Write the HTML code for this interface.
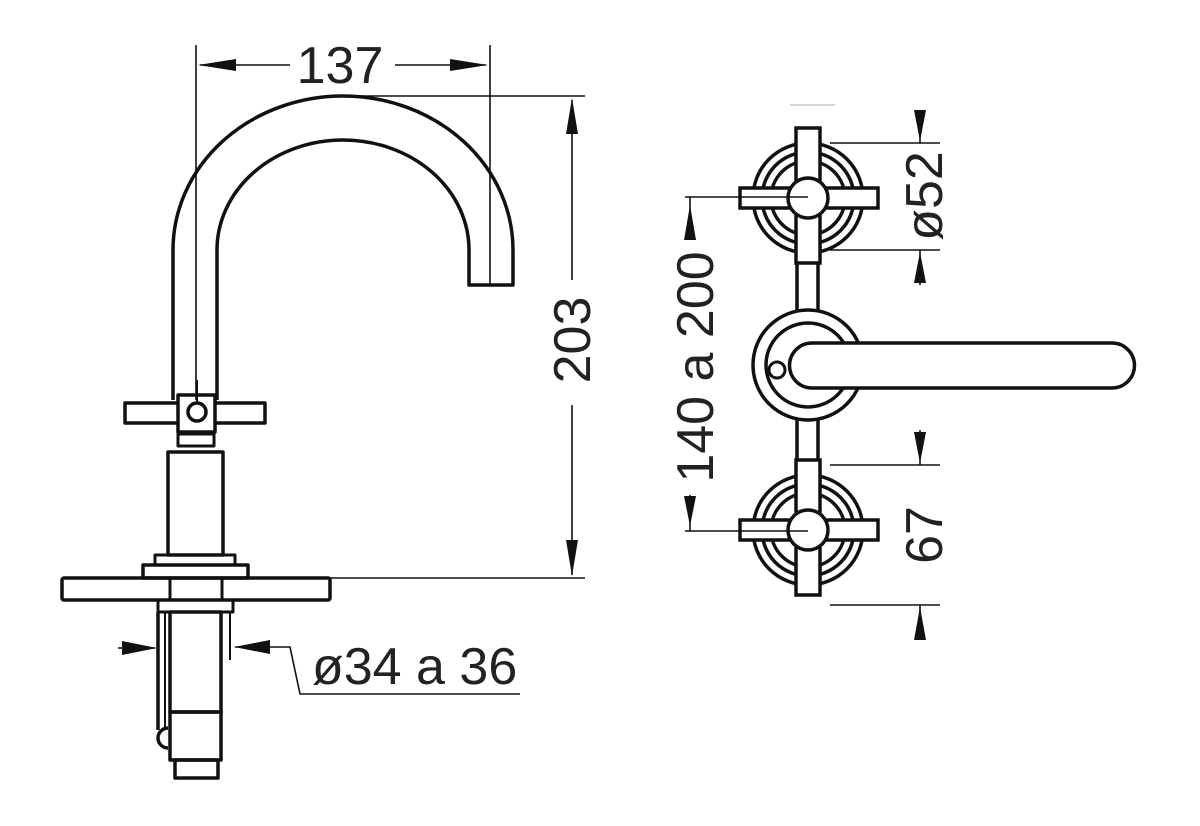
<!DOCTYPE html>
<html><head><style>body{margin:0;background:#fff}svg{display:block}</style></head><body>
<svg width="1200" height="826" viewBox="0 0 1200 826" xmlns="http://www.w3.org/2000/svg">
<defs>
<g id="knob">
<circle r="55" fill="#fff" stroke="#111" stroke-width="3.5"/>
<circle r="46" fill="none" stroke="#111" stroke-width="3.5"/>
<circle r="37" fill="none" stroke="#111" stroke-width="3.5"/>
<rect x="-12" y="-70" width="24" height="135" fill="#fff" stroke="#111" stroke-width="3.5"/>
<rect x="-68" y="-10" width="138" height="20" fill="#fff" stroke="#111" stroke-width="3.5"/>
<circle r="20" fill="#fff" stroke="#111" stroke-width="3.5"/>
</g>
</defs>
<g fill="none" stroke="#111" stroke-linejoin="round">
<!-- spout -->
<path d="M173 400 L173 250 A170 154 0 0 1 513 250 L513 285 L469 285 L469 250 A126 110 0 0 0 217 250 L217 400" stroke-width="3.5"/>
<!-- handle -->
<rect x="125" y="403" width="140" height="20" fill="#fff" stroke-width="3.5"/>
<rect x="178" y="395" width="37" height="37" fill="#fff" stroke-width="3.5"/>
<circle cx="197" cy="412" r="9" stroke-width="3.5"/>
<line x1="197" y1="380" x2="197" y2="403" stroke-width="2"/>
<rect x="178" y="434" width="36" height="12" stroke-width="3"/>
<rect x="168" y="452" width="55" height="103" stroke-width="3.5"/>
<rect x="155" y="555" width="80" height="10" stroke-width="3"/>
<rect x="143" y="565" width="105" height="13" stroke-width="3.5"/>
<rect x="62" y="578" width="268" height="22" rx="2" stroke-width="3.5"/>
<rect x="158" y="600" width="75" height="12" stroke-width="3"/>
<line x1="170" y1="578" x2="170" y2="600" stroke-width="3"/>
<line x1="222" y1="578" x2="222" y2="600" stroke-width="3"/>
<rect x="170" y="612" width="51" height="100" stroke-width="3.5"/>
<line x1="158" y1="612" x2="158" y2="730" stroke-width="3.5"/>
<line x1="165" y1="612" x2="165" y2="730" stroke-width="2"/>
<line x1="230" y1="612" x2="230" y2="660" stroke-width="2"/>
<rect x="170" y="712" width="51" height="48" stroke-width="3.5"/>
<rect x="175" y="760" width="43" height="18" stroke-width="3.5"/>
<path d="M168 728 A10 10 0 0 0 168 748" stroke-width="3.5"/>
<!-- dimensions left -->
<g stroke-width="1.6">
<line x1="196" y1="45" x2="196" y2="400"/>
<line x1="490" y1="45" x2="490" y2="285"/>
<line x1="200" y1="65" x2="290" y2="65"/>
<line x1="395" y1="65" x2="486" y2="65"/>
<line x1="345" y1="96" x2="585" y2="96"/>
<line x1="330" y1="578" x2="585" y2="578"/>
<line x1="572" y1="100" x2="572" y2="280"/>
<line x1="572" y1="405" x2="572" y2="575"/>
<polyline points="235,647 290,647 300,694 520,694"/>
<line x1="118" y1="648" x2="155" y2="648"/>
</g>
</g>
<g fill="#111">
<polygon points="198,65 236,59 236,71"/>
<polygon points="488,65 450,59 450,71"/>
<polygon points="572,98 566,134 578,134"/>
<polygon points="572,576 566,540 578,540"/>
<polygon points="157,648 122,641 122,655"/>
<polygon points="234,647 270,640 270,654"/>
</g>
<g font-family="Liberation Sans, sans-serif" font-size="52" fill="#222">
<text x="340" y="83" text-anchor="middle">137</text>
<text x="312" y="684">ø34 a 36</text>
<text transform="translate(590,340) rotate(-90)" text-anchor="middle">203</text>
<text transform="translate(713,367) rotate(-90)" text-anchor="middle">140 a 200</text>
<text transform="translate(942,196) rotate(-90)" text-anchor="middle">ø52</text>
<text transform="translate(942,535) rotate(-90)" text-anchor="middle">67</text>
</g>
<!-- right view -->
<g fill="none" stroke="#111">
<rect x="797" y="250" width="21" height="230" fill="#fff" stroke-width="3.5"/>
<circle cx="808" cy="365" r="55" fill="#fff" stroke-width="3.5"/>
<circle cx="808" cy="365" r="42" stroke-width="3.5"/>
<path d="M1112 343 L812 343 A22.5 22.5 0 0 0 812 388 L1112 388 A22.5 22.5 0 0 0 1112 343 Z" fill="#fff" stroke-width="3.5"/>
<circle cx="777" cy="370" r="8" fill="#fff" stroke-width="3"/>
</g>
<use href="#knob" x="808" y="198"/>
<use href="#knob" x="808" y="530"/>
<g stroke="#111" stroke-width="1.6">
<line x1="685" y1="197" x2="808" y2="197"/>
<line x1="685" y1="531" x2="808" y2="531"/>
<line x1="830" y1="143" x2="940" y2="143"/>
<line x1="830" y1="250" x2="940" y2="250"/>
<line x1="830" y1="465" x2="940" y2="465"/>
<line x1="830" y1="605" x2="940" y2="605"/>
<line x1="920" y1="110" x2="920" y2="143"/>
<line x1="920" y1="250" x2="920" y2="285"/>
<line x1="920" y1="430" x2="920" y2="465"/>
<line x1="920" y1="605" x2="920" y2="640"/>
<line x1="690" y1="197" x2="690" y2="240"/>
<line x1="690" y1="495" x2="690" y2="531"/>
<line x1="790" y1="105" x2="835" y2="105" stroke="#ccc"/>
</g>
<g fill="#111">
<polygon points="690,205 684,240 696,240"/>
<polygon points="690,526 684,496 696,496"/>
<polygon points="920,141 914,110 926,110"/>
<polygon points="920,252 914,283 926,283"/>
<polygon points="920,463 914,432 926,432"/>
<polygon points="920,607 914,640 926,640"/>
</g>
</svg>
</body></html>
